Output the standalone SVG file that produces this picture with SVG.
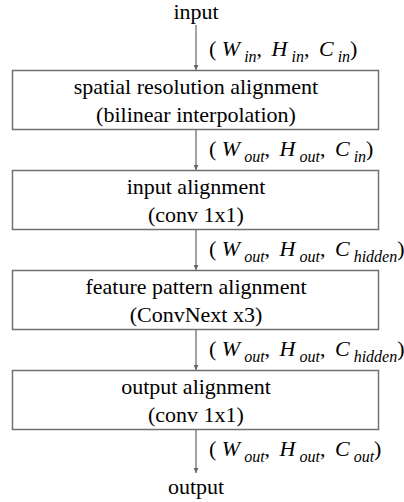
<svg xmlns="http://www.w3.org/2000/svg" width="404" height="502" viewBox="0 0 404 502" font-family="'Liberation Serif', 'Times New Roman', Times, serif" font-size="22">
<defs>
<marker id="ah" viewBox="0 0 10 10" refX="10" refY="5" markerWidth="5" markerHeight="5" orient="auto" markerUnits="userSpaceOnUse">
<path d="M0,0 L10,5 L0,10 z" fill="#666"/>
</marker>
<style>
text{fill:#000}
.c{text-anchor:middle}
.box{fill:#fff;stroke:#707070;stroke-width:1.5}
.edge{stroke:#666;stroke-width:1.2;fill:none;marker-end:url(#ah)}
.i{font-style:italic}
.s{font-style:italic;font-size:16px}
</style>
</defs>
<rect width="404" height="502" fill="#fff"/>
<g id="connectors">
<line class="edge" x1="196" y1="25" x2="196" y2="70"/>
<line class="edge" x1="196" y1="130" x2="196" y2="170"/>
<line class="edge" x1="196" y1="230" x2="196" y2="270"/>
<line class="edge" x1="196" y1="330" x2="196" y2="370"/>
<line class="edge" x1="196" y1="430" x2="196" y2="473"/>
<text x="209" y="56">( <tspan class="i">W</tspan><tspan class="s" dx="4" dy="6">in</tspan><tspan dy="-6">, </tspan><tspan class="i" dx="4">H</tspan><tspan class="s" dx="4" dy="6">in</tspan><tspan dy="-6">, </tspan><tspan class="i" dx="4">C</tspan><tspan class="s" dx="4" dy="6">in</tspan><tspan dy="-6">)</tspan></text>
<text x="209" y="156">( <tspan class="i">W</tspan><tspan class="s" dx="4" dy="6">out</tspan><tspan dy="-6">, </tspan><tspan class="i" dx="4">H</tspan><tspan class="s" dx="4" dy="6">out</tspan><tspan dy="-6">, </tspan><tspan class="i" dx="4">C</tspan><tspan class="s" dx="4" dy="6">in</tspan><tspan dy="-6">)</tspan></text>
<text x="209" y="256">( <tspan class="i">W</tspan><tspan class="s" dx="4" dy="6">out</tspan><tspan dy="-6">, </tspan><tspan class="i" dx="4">H</tspan><tspan class="s" dx="4" dy="6">out</tspan><tspan dy="-6">, </tspan><tspan class="i" dx="4">C</tspan><tspan class="s" dx="4" dy="6">hidden</tspan><tspan dy="-6">)</tspan></text>
<text x="209" y="356">( <tspan class="i">W</tspan><tspan class="s" dx="4" dy="6">out</tspan><tspan dy="-6">, </tspan><tspan class="i" dx="4">H</tspan><tspan class="s" dx="4" dy="6">out</tspan><tspan dy="-6">, </tspan><tspan class="i" dx="4">C</tspan><tspan class="s" dx="4" dy="6">hidden</tspan><tspan dy="-6">)</tspan></text>
<text x="209" y="456">( <tspan class="i">W</tspan><tspan class="s" dx="4" dy="6">out</tspan><tspan dy="-6">, </tspan><tspan class="i" dx="4">H</tspan><tspan class="s" dx="4" dy="6">out</tspan><tspan dy="-6">, </tspan><tspan class="i" dx="4">C</tspan><tspan class="s" dx="4" dy="6">out</tspan><tspan dy="-6">)</tspan></text>
</g>
<g id="input"><text class="c" x="196" y="19">input</text></g>
<g id="spatial">
<rect class="box" x="12.5" y="70.5" width="366" height="59"/>
<text class="c" x="196" y="94">spatial resolution alignment</text>
<text class="c" x="196" y="122">(bilinear interpolation)</text>
</g>
<g id="inputalign">
<rect class="box" x="12.5" y="170.5" width="366" height="59"/>
<text class="c" x="196" y="194">input alignment</text>
<text class="c" x="196" y="222">(conv 1x1)</text>
</g>
<g id="feature">
<rect class="box" x="12.5" y="270.5" width="366" height="59"/>
<text class="c" x="196" y="294">feature pattern alignment</text>
<text class="c" x="196" y="322">(ConvNext x3)</text>
</g>
<g id="outputalign">
<rect class="box" x="12.5" y="370.5" width="366" height="59"/>
<text class="c" x="196" y="394">output alignment</text>
<text class="c" x="196" y="422">(conv 1x1)</text>
</g>
<g id="output"><text class="c" x="196" y="494">output</text></g>
</svg>
